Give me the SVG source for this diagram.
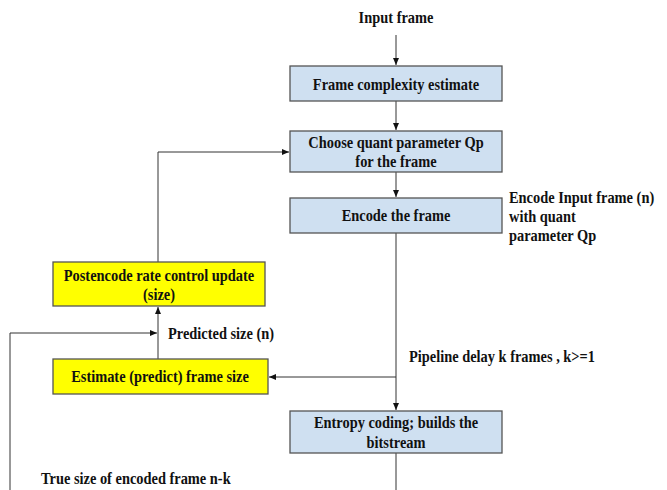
<svg xmlns="http://www.w3.org/2000/svg" width="667" height="490" viewBox="0 0 667 490">
<defs>
<marker id="ah" markerWidth="8" markerHeight="8" refX="7" refY="4" orient="auto" markerUnits="userSpaceOnUse">
<path d="M0,1 L7,4 L0,7 Z" fill="#111"/>
</marker>
<style>
text{font-family:"Liberation Serif","Times New Roman",serif;font-weight:bold;font-size:16px;fill:#111}
.c{text-anchor:middle;transform-box:fill-box;transform-origin:center;transform:scaleX(0.9)}
.l{transform-box:fill-box;transform-origin:left;transform:scaleX(0.9)}
.blue{fill:#cfe0f1;stroke:#555;stroke-width:1.3}
.yel{fill:#ffff00;stroke:#555;stroke-width:1.3}
.ln{fill:none;stroke:#333;stroke-width:1}
</style>
</defs>
<rect width="667" height="490" fill="#fff"/>
<g id="connectors">
<path class="ln" d="M396,35 V65" marker-end="url(#ah)"/>
<path class="ln" d="M396,101 V130" marker-end="url(#ah)"/>
<path class="ln" d="M396,172 V197" marker-end="url(#ah)"/>
<path class="ln" d="M396,233 V410" marker-end="url(#ah)"/>
<path class="ln" d="M396,377 H269" marker-end="url(#ah)"/>
<path class="ln" d="M158,359 V307" marker-end="url(#ah)"/>
<path class="ln" d="M158,262 V152 H289" marker-end="url(#ah)"/>
<path class="ln" d="M10,490 V333 H157" marker-end="url(#ah)"/>
<path class="ln" d="M396,453 V490"/>
</g>
<g id="input">
<text class="c" x="396" y="23">Input frame</text>
</g>
<g id="complexity">
<rect class="blue" x="290" y="66" width="212" height="35"/>
<text class="c" x="396" y="90.5">Frame complexity estimate</text>
</g>
<g id="choose">
<rect class="blue" x="290" y="131" width="212" height="41"/>
<text class="c" x="396" y="148">Choose quant parameter Qp</text>
<text class="c" x="396" y="167">for the frame</text>
</g>
<g id="encode">
<rect class="blue" x="290" y="198" width="212" height="35"/>
<text class="c" x="396" y="221.5">Encode the frame</text>
</g>
<g id="encode-note">
<text class="l" x="509" y="203">Encode Input frame (n)</text>
<text class="l" x="509" y="222">with quant</text>
<text class="l" x="509" y="241">parameter Qp</text>
</g>
<g id="postencode">
<rect class="yel" x="53" y="262" width="212" height="44"/>
<text class="c" x="159" y="281">Postencode rate control update</text>
<text class="c" x="159" y="300">(size)</text>
</g>
<g id="predicted-label">
<text class="l" x="168" y="339">Predicted size (n)</text>
</g>
<g id="pipeline-label">
<text class="l" x="409" y="362">Pipeline delay k frames , k&gt;=1</text>
</g>
<g id="estimate">
<rect class="yel" x="53" y="359" width="215" height="35"/>
<text class="c" x="160" y="382.5">Estimate (predict) frame size</text>
</g>
<g id="entropy">
<rect class="blue" x="290" y="411" width="212" height="42"/>
<text class="c" x="396" y="428">Entropy coding; builds the</text>
<text class="c" x="396" y="448">bitstream</text>
</g>
<g id="true-size">
<text class="l" x="41" y="484">True size of encoded frame n-k</text>
</g>
</svg>
